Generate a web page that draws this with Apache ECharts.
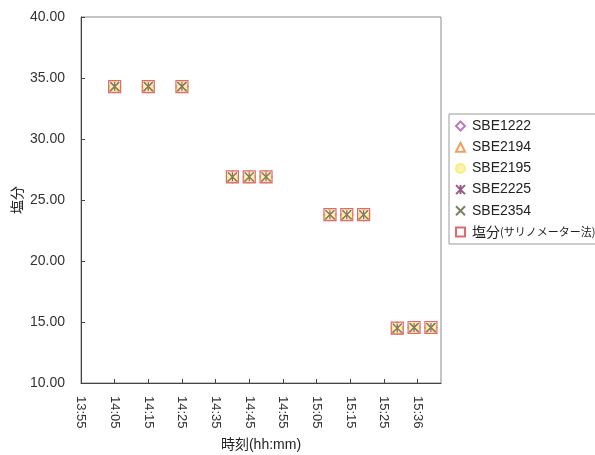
<!DOCTYPE html>
<html>
<head>
<meta charset="utf-8">
<script src="https://cdn.jsdelivr.net/npm/echarts@6/dist/echarts.min.js"></script>
<style>
  html, body { margin: 0; padding: 0; background: #fff; }
  #chart { width: 595px; height: 455px; }
</style>
</head>
<body>
<div id="chart"></div>
<script>
// Sampling times, minutes since midnight (14:05 = 845)
const sampleTimes = [845, 855, 865, 880, 885, 890, 909, 914, 919, 929, 934, 939];
// Salinity measured at each sampling time
const salinity = [34.3, 34.3, 34.3, 26.9, 26.9, 26.9, 23.8, 23.8, 23.8, 14.5, 14.55, 14.55];
// The same readings per instrument (all coincide)
const sbe1222 = salinity;
const sbe2194 = salinity;
const sbe2195 = salinity;
const sbe2225 = salinity;
const sbe2354 = salinity;
const salinometer = salinity;
// x tick labels, one per 10 minutes from 13:55
const xTickLabels = ['13:55', '14:05', '14:15', '14:25', '14:35', '14:45', '14:55', '15:05', '15:15', '15:25', '15:36'];
const seriesNames = ['SBE1222', 'SBE2194', 'SBE2195', 'SBE2225', 'SBE2354', '塩分(サリノメーター法)'];

const X_MIN = 835, X_MAX = 942, X_STEP = 10;
const font = '"Liberation Sans", "Noto Sans CJK JP", sans-serif';
const jpFont = '"Noto Sans CJK JP", sans-serif';

function pairs(ys) { return sampleTimes.map((t, i) => [t, ys[i]]); }

const asterisk = 'path://M0,0L10,10M10,0L0,10M5,0L5,10';
const cross = 'path://M0,0L10,10M10,0L0,10';

function mk(name, ys, symbol, fill, stroke, size) {
  return {
    name, type: 'scatter', data: pairs(ys), symbol, symbolSize: size,
    itemStyle: { color: fill, borderColor: stroke, borderWidth: 1.2, opacity: 1 },
    emphasis: { disabled: true }
  };
}

const chart = echarts.init(document.getElementById('chart'), null, { renderer: 'canvas' });
chart.setOption({
  animation: false,
  backgroundColor: '#ffffff',
  textStyle: { fontFamily: font },
  grid: { left: 81, right: 154, top: 17, bottom: 72, show: true, borderColor: '#8a8a8a', borderWidth: 1, backgroundColor: '#fff', outerBoundsMode: 'none' },
  legend: {
    orient: 'vertical', left: 449, top: 114,
    padding: [5, 4, 5, 6], itemGap: 7.2, itemWidth: 9, itemHeight: 9,
    borderColor: '#9a9a9a', borderWidth: 1, backgroundColor: '#fff',
    formatter: name => name.startsWith('塩分') ? '{a|塩分}{b|' + name.slice(2) + '}' : name,
    textStyle: {
      fontSize: 14, color: '#222', fontFamily: font, padding: [0, 0, 0, 2],
      rich: {
        a: { fontSize: 14, fontFamily: jpFont, color: '#222' },
        b: { fontSize: 11, fontFamily: jpFont, color: '#222' }
      }
    },
    data: seriesNames
  },
  xAxis: {
    type: 'value', min: X_MIN, max: X_MAX, interval: X_STEP,
    name: '時刻(hh:mm)', nameLocation: 'middle', nameGap: 55,
    nameTextStyle: { fontSize: 14, color: '#222', fontFamily: font },
    axisLine: { show: true, lineStyle: { color: '#444', width: 1 } },
    axisTick: { show: true, inside: true, length: 4, lineStyle: { color: '#444' } },
    axisLabel: {
      rotate: -90, fontSize: 13, color: '#333', margin: 13, showMaxLabel: false,
      formatter: v => xTickLabels[Math.round((v - X_MIN) / X_STEP)] || ''
    },
    splitLine: { show: false }
  },
  yAxis: {
    type: 'value', min: 10, max: 40, interval: 5,
    name: '塩分', nameLocation: 'middle', nameGap: 57, nameMoveOverlap: false,
    nameTextStyle: { fontSize: 14, color: '#222', fontFamily: jpFont },
    axisLine: { show: true, lineStyle: { color: '#444', width: 1 } },
    axisTick: { show: true, inside: true, length: 4, lineStyle: { color: '#444' } },
    axisLabel: { fontSize: 14, color: '#333', margin: 16, formatter: v => v.toFixed(2) },
    splitLine: { show: false }
  },
  series: [
    mk(seriesNames[0], sbe1222, 'diamond', 'rgba(0,0,0,0)', '#c07ab8', 12),
    mk(seriesNames[1], sbe2194, 'triangle', 'rgba(0,0,0,0)', '#f0a060', 11),
    mk(seriesNames[2], sbe2195, 'circle', '#fbf3a8', '#f6ee88', 10),
    mk(seriesNames[3], sbe2225, asterisk, 'rgba(0,0,0,0)', '#9a5a88', 9),
    mk(seriesNames[4], sbe2354, cross, 'rgba(0,0,0,0)', '#7f8066', 9),
    mk(seriesNames[5], salinometer, 'rect', 'rgba(0,0,0,0)', '#e06a6a', 12)
  ]
});
</script>
</body>
</html>
